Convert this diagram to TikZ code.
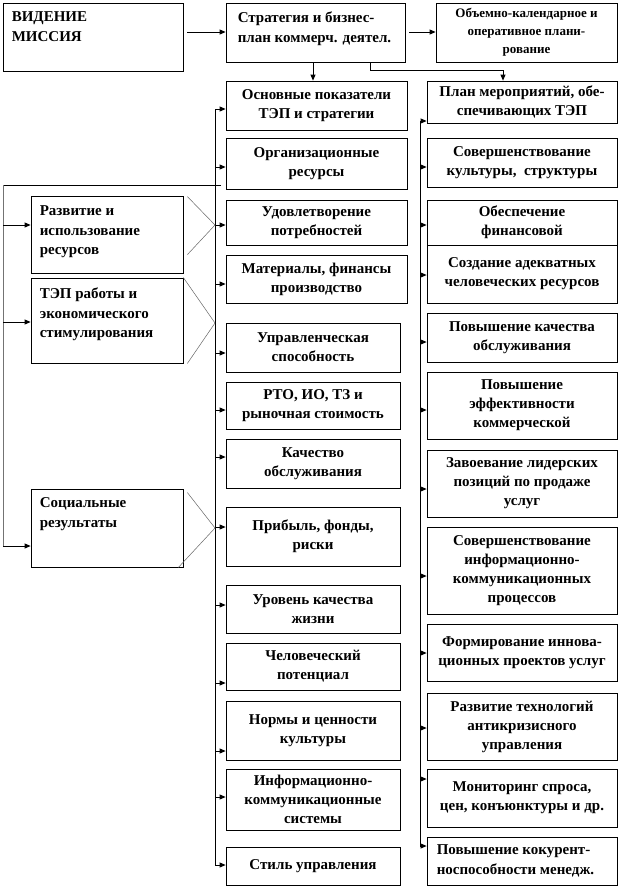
\documentclass[tikz,border=0pt]{standalone}
\usepackage{fontspec}
\setmainfont{Liberation Serif}
\usetikzlibrary{arrows.meta,calc}
\tikzset{
  bx/.style={draw, line width=0.8pt, inner sep=0pt, align=center,
    font=\bfseries\fontsize{15}{19}\selectfont},
  txt/.style={inner sep=0pt, align=left, font=\bfseries\fontsize{15}{19.5}\selectfont},
  arr/.style={line width=0.8pt, -{Triangle[length=6pt,width=5pt]}},
  ln/.style={line width=0.8pt},
  dg/.style={line width=0.5pt, black!60},
}
\newcommand\bxc[6]{\node[bx, minimum width={(#4-#2)*1pt}, minimum height={(#5-#3)*1pt}] (#1) at ({(#2+#4)/2},{(#3+#5)/2}) {#6};}
\newcommand\larr[2]{\draw[arr] (spL |- 0,#2) -- (#1.west |- 0,#2);}
\newcommand\rarr[2]{\draw[arr] (spR |- 0,#2) -- (#1.west |- 0,#2);}
\begin{document}
\begin{tikzpicture}[x=1pt,y=-1pt]
\useasboundingbox (0,0) rectangle (622,889);
% top row
\bxc{A}{3}{3}{183}{71}{}
\node[txt, anchor=north west] (At) at ($(A.north west)+(9,9)$) {ВИДЕНИЕ\\МИССИЯ};
\bxc{B}{226}{3}{405}{62}{}
\node[txt, anchor=north west] (Bt) at ($(B.north west)+(12,9)$) {Стратегия и бизнес-\\план коммерч. деятел.};
\node[bx, font=\bfseries\fontsize{13}{18}\selectfont, minimum width=181pt, minimum height=59pt] (C) at (526.5,32.5) {Объемно-календарное и\\оперативное плани-\\рование};
% D column
\bxc{D1}{226}{81}{407}{130}{Основные показатели\\ТЭП и стратегии}
\bxc{D2}{226}{138}{407}{189}{Организационные\\ресурсы}
\bxc{D3}{226}{200}{407}{245}{Удовлетворение\\потребностей}
\bxc{D4}{226}{255}{407}{303}{Материалы, финансы\\производство}
\bxc{D5}{226}{323}{400}{372}{Управленческая\\способность}
\bxc{D6}{226}{382}{400}{429}{РТО, ИО, ТЗ и\\рыночная стоимость}
\bxc{D7}{226}{439}{400}{488}{Качество\\обслуживания}
\bxc{D8}{226}{507}{400}{566}{Прибыль, фонды,\\риски}
\bxc{D9}{226}{585}{400}{633}{Уровень качества\\жизни}
\bxc{D10}{226}{643}{400}{690}{Человеческий\\потенциал}
\bxc{D11}{226}{701}{400}{760}{Нормы и ценности\\культуры}
\bxc{D12}{226}{769}{400}{830}{Информационно-\\коммуникационные\\системы}
\bxc{D13}{226}{847}{400}{885}{Стиль управления}
% E column
\bxc{E1}{427}{81}{617}{123}{План мероприятий, обе-\\спечивающих ТЭП}
\bxc{E2}{427}{138}{617}{187}{Совершенствование\\культуры,~ структуры}
\bxc{E3}{427}{200}{617}{245}{Обеспечение\\финансовой}
\bxc{E4}{427}{245}{617}{303}{Создание адекватных\\человеческих ресурсов}
\bxc{E5}{427}{313}{617}{362}{Повышение качества\\обслуживания}
\bxc{E6}{427}{372}{617}{439}{Повышение\\эффективности\\коммерческой}
\bxc{E7}{427}{450}{617}{517}{Завоевание лидерских\\позиций по продаже\\услуг}
\bxc{E8}{427}{527}{617}{614}{Совершенствование\\информационно-\\коммуникационных\\процессов}
\bxc{E9}{427}{624}{617}{681}{Формирование иннова-\\ционных проектов услуг}
\bxc{E10}{427}{693}{617}{760}{Развитие технологий\\антикризисного\\управления}
\bxc{E11}{427}{769}{617}{827}{Мониторинг спроса,\\цен, конъюнктуры и др.}
\bxc{E12}{427}{837}{617}{885}{}
\node[txt, anchor=west] (E12t) at ($(E12.west)+(10,0)$) {Повышение кокурент-\\носпособности менедж.};
% L column
\bxc{L1}{31}{196}{183}{273}{}
\node[txt, anchor=north west] (L1t) at ($(L1.north west)+(9,10)$) {Развитие и\\использование\\ресурсов};
\bxc{L2}{31}{278}{183}{363}{}
\node[txt, anchor=north west] (L2t) at ($(L2.north west)+(9,10)$) {ТЭП работы и\\экономического\\стимулирования};
\bxc{L3}{31}{489}{183}{567}{}
\node[txt, anchor=north west] (L3t) at ($(L3.north west)+(9,9)$) {Социальные\\результаты};
% spines
\coordinate (spA) at (3,0);
\coordinate (spL) at (215,0);
\coordinate (spR) at (420,0);
% top connectors
\draw[arr, shorten <=4pt] (A.east |- 0,32) -- (B.west |- 0,32);
\draw[arr, shorten <=4pt] (B.east |- 0,32) -- (C.west |- 0,32);
\draw[arr] (313,0 |- B.south) -- (313,0 |- D1.north);
\draw[arr] (370,0 |- B.south) |- (503,70) -- (503,0 |- E1.north);
% left-middle spine
\draw[ln] (spL |- 0,109) -- (spL |- 0,865);
\larr{D1}{109}\larr{D2}{167}\larr{D3}{225}\larr{D4}{284}
\larr{D5}{353}\larr{D6}{410}\larr{D7}{457}\larr{D8}{527}
\larr{D9}{605}\larr{D10}{683}\larr{D11}{751}\larr{D12}{797}
\larr{D13}{865}
% right spine
\draw[ln] (spR |- 0,121) -- (spR |- 0,846);
\rarr{E1}{121}\rarr{E2}{167}\rarr{E3}{225}\rarr{E4}{275}
\rarr{E5}{342}\rarr{E6}{410}\rarr{E7}{489}\rarr{E8}{576}
\rarr{E9}{653}\rarr{E10}{728}\rarr{E11}{779}\rarr{E12}{846}
% far-left spine
\draw[ln] (221,185) -- (spA |- 0,185);
\draw[ln, black!55] (spA |- 0,185) -- (spA |- 0,546);
\draw[arr] (spA |- 0,225) -- (L1.west |- 0,225);
\draw[arr] (spA |- 0,322) -- (L2.west |- 0,322);
\draw[arr] (spA |- 0,546) -- (L3.west |- 0,546);
% diagonals
\draw[dg] ($(L1.north east)+(4,1)$) -- (spL |- 0,225) -- ($(L1.north east)+(4,59)$);
\draw[dg] (L2.north east) -- (spL |- 0,323) -- ($(L2.south east)+(4,0)$);
\draw[dg] ($(L3.north east)+(4,4)$) -- (spL |- 0,528) -- ($(L3.south east)+(-5,0)$);
\end{tikzpicture}
\end{document}
